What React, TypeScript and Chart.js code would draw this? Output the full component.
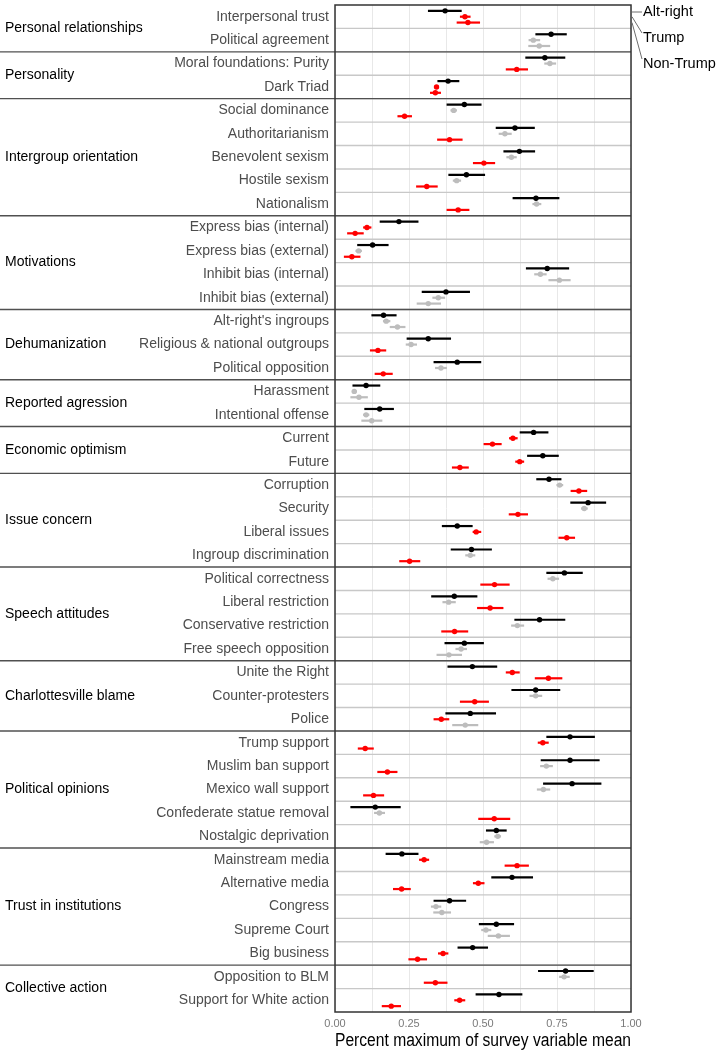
import React, { useEffect, useRef } from 'react';
import { Chart, registerables } from 'chart.js';
Chart.register(...registerables);

const FONT = '"Liberation Sans", Arial, Helvetica, sans-serif';

const groupNames = [
  'Personal relationships', 'Personality', 'Intergroup orientation', 'Motivations',
  'Dehumanization', 'Reported agression', 'Economic optimism', 'Issue concern',
  'Speech attitudes', 'Charlottesville blame', 'Political opinions',
  'Trust in institutions', 'Collective action',
];
const groupSizes = [2, 2, 5, 4, 3, 2, 2, 4, 4, 3, 5, 5, 2];

const rowLabels = [
  'Interpersonal trust', 'Political agreement',
  'Moral foundations: Purity', 'Dark Triad',
  'Social dominance', 'Authoritarianism', 'Benevolent sexism', 'Hostile sexism', 'Nationalism',
  'Express bias (internal)', 'Express bias (external)', 'Inhibit bias (internal)', 'Inhibit bias (external)',
  "Alt-right's ingroups", 'Religious & national outgroups', 'Political opposition',
  'Harassment', 'Intentional offense',
  'Current', 'Future',
  'Corruption', 'Security', 'Liberal issues', 'Ingroup discrimination',
  'Political correctness', 'Liberal restriction', 'Conservative restriction', 'Free speech opposition',
  'Unite the Right', 'Counter-protesters', 'Police',
  'Trump support', 'Muslim ban support', 'Mexico wall support', 'Confederate statue removal', 'Nostalgic deprivation',
  'Mainstream media', 'Alternative media', 'Congress', 'Supreme Court', 'Big business',
  'Opposition to BLM', 'Support for White action',
];

// Alt-right
const altMean = [0.372, 0.730, 0.709, 0.382, 0.437, 0.608, 0.623, 0.444, 0.679, 0.216, 0.127, 0.717, 0.375, 0.164, 0.315, 0.413, 0.105, 0.151, 0.671, 0.702, 0.723, 0.855, 0.413, 0.461, 0.775, 0.403, 0.691, 0.437, 0.464, 0.678, 0.457, 0.794, 0.794, 0.801, 0.136, 0.545, 0.226, 0.598, 0.387, 0.545, 0.465, 0.779, 0.554];
const altLo = [0.314, 0.677, 0.643, 0.346, 0.377, 0.543, 0.569, 0.383, 0.600, 0.151, 0.075, 0.645, 0.293, 0.123, 0.242, 0.333, 0.059, 0.099, 0.624, 0.649, 0.680, 0.795, 0.361, 0.391, 0.714, 0.325, 0.606, 0.370, 0.380, 0.596, 0.373, 0.714, 0.695, 0.703, 0.052, 0.510, 0.171, 0.528, 0.333, 0.486, 0.414, 0.686, 0.475];
const altHi = [0.428, 0.783, 0.778, 0.420, 0.495, 0.675, 0.676, 0.507, 0.758, 0.282, 0.181, 0.791, 0.456, 0.208, 0.392, 0.494, 0.153, 0.199, 0.721, 0.756, 0.765, 0.916, 0.465, 0.530, 0.837, 0.481, 0.778, 0.503, 0.548, 0.761, 0.544, 0.878, 0.894, 0.900, 0.222, 0.580, 0.282, 0.669, 0.443, 0.605, 0.517, 0.874, 0.633];

// Trump
const trumpMean = [0.439, 0.670, 0.726, 0.343, 0.401, 0.574, 0.596, 0.411, 0.681, 0.108, 0.080, 0.694, 0.349, 0.173, 0.257, 0.358, 0.065, 0.105, 0.601, 0.624, 0.759, 0.842, 0.477, 0.457, 0.736, 0.384, 0.616, 0.426, 0.599, 0.678, 0.359, 0.702, 0.714, 0.704, 0.150, 0.550, 0.301, 0.484, 0.341, 0.510, 0.365, 0.774, 0.421];
const trumpLo = [0.422, 0.654, 0.707, 0.337, 0.390, 0.553, 0.579, 0.398, 0.667, 0.095, 0.069, 0.673, 0.329, 0.162, 0.239, 0.338, 0.057, 0.095, 0.588, 0.609, 0.748, 0.831, 0.465, 0.440, 0.718, 0.363, 0.595, 0.407, 0.577, 0.657, 0.333, 0.685, 0.693, 0.682, 0.132, 0.538, 0.284, 0.466, 0.324, 0.494, 0.348, 0.757, 0.403];
const trumpHi = [0.458, 0.693, 0.747, 0.350, 0.412, 0.597, 0.614, 0.426, 0.697, 0.123, 0.091, 0.715, 0.372, 0.187, 0.277, 0.378, 0.074, 0.116, 0.617, 0.639, 0.771, 0.854, 0.494, 0.474, 0.757, 0.408, 0.639, 0.446, 0.624, 0.700, 0.386, 0.722, 0.736, 0.727, 0.169, 0.561, 0.318, 0.505, 0.359, 0.528, 0.383, 0.793, 0.440];
const trumpSig = [1, 0, 0, 1, 0, 0, 0, 0, 0, 1, 0, 0, 0, 0, 0, 0, 0, 0, 1, 1, 0, 0, 1, 0, 0, 0, 0, 0, 1, 0, 1, 1, 0, 0, 0, 0, 1, 1, 0, 0, 1, 0, 1];

// Non-Trump
const nonMean = [0.449, 0.690, 0.614, 0.339, 0.235, 0.387, 0.503, 0.310, 0.416, 0.068, 0.057, 0.758, 0.315, 0.211, 0.145, 0.163, 0.081, 0.124, 0.532, 0.422, 0.824, 0.618, 0.783, 0.252, 0.539, 0.524, 0.404, 0.385, 0.721, 0.472, 0.440, 0.102, 0.177, 0.130, 0.538, 0.512, 0.615, 0.225, 0.361, 0.552, 0.279, 0.339, 0.190];
const nonLo = [0.411, 0.653, 0.577, 0.321, 0.211, 0.345, 0.466, 0.274, 0.377, 0.041, 0.030, 0.721, 0.276, 0.185, 0.118, 0.134, 0.052, 0.089, 0.502, 0.395, 0.796, 0.587, 0.755, 0.217, 0.491, 0.480, 0.359, 0.343, 0.675, 0.422, 0.396, 0.077, 0.143, 0.095, 0.484, 0.489, 0.573, 0.196, 0.332, 0.516, 0.248, 0.300, 0.158];
const nonHi = [0.490, 0.727, 0.652, 0.358, 0.260, 0.431, 0.541, 0.347, 0.454, 0.097, 0.086, 0.796, 0.358, 0.238, 0.173, 0.195, 0.111, 0.160, 0.563, 0.452, 0.852, 0.652, 0.811, 0.288, 0.590, 0.569, 0.450, 0.429, 0.768, 0.520, 0.484, 0.131, 0.211, 0.166, 0.592, 0.537, 0.655, 0.256, 0.392, 0.591, 0.311, 0.380, 0.223];
const nonSig = [1, 0, 1, 1, 1, 1, 1, 1, 1, 1, 1, 0, 0, 0, 1, 1, 0, 0, 1, 1, 1, 1, 1, 1, 1, 1, 1, 0, 1, 1, 0, 1, 1, 1, 1, 0, 1, 1, 0, 0, 1, 1, 1];

const seriesNames = ['Alt-right', 'Trump', 'Non-Trump'];
const xGridValues = [0, 0.125, 0.25, 0.375, 0.5, 0.625, 0.75, 0.875, 1];
const xTickValues = [0, 0.25, 0.5, 0.75, 1];
const xTickLabels = ['0.00', '0.25', '0.50', '0.75', '1.00'];
const xTitle = 'Percent maximum of survey variable mean';

const BLACK = '#000000';
const RED = '#ff0000';
const GRAY = '#bdbdbd';
const DODGE = [0.25, 0.5, 0.75];

export default function App() {
  const ref = useRef<HTMLCanvasElement>(null);

  useEffect(() => {
    document.body.style.margin = '0';
    const N = rowLabels.length;
    const series = [
      { mean: altMean, lo: altLo, hi: altHi, colors: altMean.map(() => BLACK) },
      { mean: trumpMean, lo: trumpLo, hi: trumpHi, colors: trumpSig.map((s) => (s ? RED : GRAY)) },
      { mean: nonMean, lo: nonLo, hi: nonHi, colors: nonSig.map((s) => (s ? RED : GRAY)) },
    ];

    const plugin = {
      id: 'dotWhisker',
      beforeDatasetsDraw(chart: any) {
        const { ctx, chartArea: a, scales } = chart;
        const xs = scales.x;
        const ys = scales.y;
        ctx.save();
        // light row separators
        ctx.strokeStyle = '#c8c8c8';
        ctx.lineWidth = 1.4;
        for (let i = 1; i < N; i++) {
          const py = ys.getPixelForValue(i);
          ctx.beginPath();
          ctx.moveTo(a.left, py);
          ctx.lineTo(a.right, py);
          ctx.stroke();
        }
        // error bars
        ctx.lineWidth = 2.2;
        ctx.lineCap = 'butt';
        series.forEach((s, k) => {
          s.mean.forEach((_, i) => {
            const py = ys.getPixelForValue(i + DODGE[k]);
            ctx.strokeStyle = s.colors[i];
            ctx.beginPath();
            ctx.moveTo(xs.getPixelForValue(s.lo[i]), py);
            ctx.lineTo(xs.getPixelForValue(s.hi[i]), py);
            ctx.stroke();
          });
        });
        ctx.restore();
      },
      afterDraw(chart: any) {
        const { ctx, chartArea: a, scales } = chart;
        const ys = scales.y;
        ctx.save();
        // group separators
        ctx.strokeStyle = '#505050';
        ctx.lineWidth = 1.4;
        let start = 0;
        const starts: number[] = [];
        groupSizes.forEach((sz, g) => {
          starts.push(start);
          start += sz;
          if (g < groupSizes.length - 1) {
            const py = ys.getPixelForValue(start);
            ctx.beginPath();
            ctx.moveTo(0, py);
            ctx.lineTo(a.right, py);
            ctx.stroke();
          }
        });
        // frame
        ctx.strokeStyle = '#333333';
        ctx.lineWidth = 1.5;
        ctx.strokeRect(a.left, a.top, a.right - a.left, a.bottom - a.top);
        // group labels
        ctx.fillStyle = '#000000';
        ctx.font = `14px ${FONT}`;
        ctx.textAlign = 'left';
        ctx.textBaseline = 'middle';
        groupNames.forEach((name, g) => {
          const py = ys.getPixelForValue(starts[g] + groupSizes[g] / 2);
          ctx.fillText(name, 5, py);
        });
        // direct legend with leader lines
        const textY = [a.top + 7, a.top + 33, a.top + 59];
        const endY = [a.top + 7, a.top + 28, a.top + 54];
        ctx.strokeStyle = '#6e6e6e';
        ctx.lineWidth = 1;
        seriesNames.forEach((name, k) => {
          const py = ys.getPixelForValue(DODGE[k]);
          ctx.beginPath();
          ctx.moveTo(a.right + 1, k === 0 ? textY[0] : py);
          ctx.lineTo(a.right + 11, endY[k]);
          ctx.stroke();
          ctx.font = `14.5px ${FONT}`;
          ctx.fillStyle = '#000000';
          ctx.fillText(name, a.right + 12, textY[k]);
        });
        ctx.restore();
      },
    };

    const chart = new Chart(ref.current as HTMLCanvasElement, {
      type: 'scatter',
      data: {
        datasets: series.map((s, k) => ({
          label: seriesNames[k],
          data: s.mean.map((v, i) => ({ x: v, y: i + DODGE[k] })),
          backgroundColor: s.colors,
          borderColor: s.colors,
          pointRadius: 2.7,
          pointHoverRadius: 2.7,
          pointBorderWidth: 0,
        })),
      },
      options: {
        responsive: false,
        animation: false,
        events: [],
        layout: { padding: { left: 0, right: 86, top: 5, bottom: 0 } },
        plugins: { legend: { display: false }, tooltip: { enabled: false } },
        scales: {
          x: {
            type: 'linear',
            min: 0,
            max: 1,
            afterBuildTicks: (s: any) => {
              s.ticks = xGridValues.map((v) => ({ value: v }));
            },
            afterFit: (s: any) => {
              s.height = 38;
              s.paddingLeft = 0;
              s.paddingRight = 0;
            },
            ticks: {
              autoSkip: false,
              maxRotation: 0,
              padding: 5,
              color: '#7a7a7a',
              font: { family: FONT, size: 11 },
              callback: (v: any) => {
                const k = xTickValues.indexOf(v);
                return k >= 0 ? xTickLabels[k] : '';
              },
            },
            grid: { color: '#e8e8e8', lineWidth: 1, drawTicks: false },
            border: { display: false },
            title: {
              display: true,
              text: xTitle,
              color: '#000000',
              font: { family: FONT, size: 18, lineHeight: 1.05 },
              padding: { top: 0, bottom: 0 },
            },
          },
          y: {
            type: 'linear',
            min: 0,
            max: N,
            reverse: true,
            afterBuildTicks: (s: any) => {
              s.ticks = rowLabels.map((_, i) => ({ value: i + 0.5 }));
            },
            afterFit: (s: any) => {
              s.width = 335;
              s.paddingTop = 0;
              s.paddingBottom = 0;
            },
            ticks: {
              autoSkip: false,
              padding: 6,
              color: '#4d4d4d',
              font: { family: FONT, size: 14 },
              callback: (_v: any, i: number) => rowLabels[i],
            },
            grid: { display: false, drawTicks: false },
            border: { display: false },
          },
        },
      },
      plugins: [plugin],
    } as any);

    return () => chart.destroy();
  }, []);

  return <canvas ref={ref} width={717} height={1050} style={{ display: 'block' }} />;
}
